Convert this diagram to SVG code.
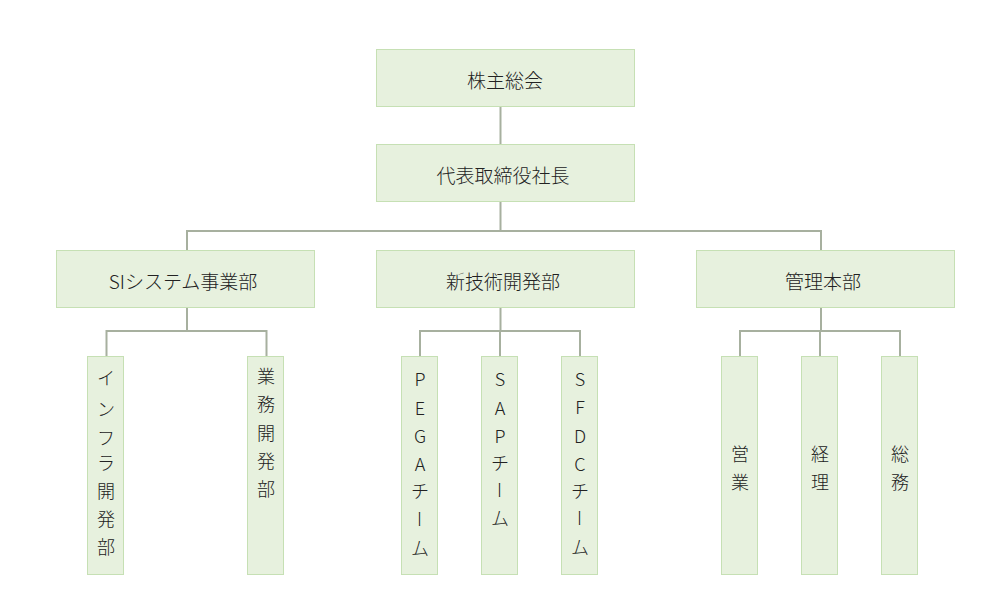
<svg xmlns="http://www.w3.org/2000/svg" width="1000" height="616" viewBox="0 0 1000 616">
<style>
.box{fill:#e7f1de;stroke:#c6e0b4;stroke-width:1}
.ln{fill:none;stroke:#a7b09f;stroke-width:2}
text{font-family:"Noto Sans CJK JP","Noto Sans",sans-serif;font-size:18px;font-weight:300;fill:#222;text-anchor:middle;dominant-baseline:central}
.h{font-size:19px}
</style>
<rect width="1000" height="616" fill="#fff"/>
<g id="connectors">
<path class="ln" d="M500.5 106V144.5"/>
<path class="ln" d="M500.5 201.5V231M187 250V231H821V250"/>
<path class="ln" d="M187 307V331M106.5 356V331H266.5V356"/>
<path class="ln" d="M500.5 307V331M420 356V331H580V356M500 331V356"/>
<path class="ln" d="M821 307V331M740 356V331H900V356M820 331V356"/>
</g>
<g id="n-kabunushi"><rect class="box" x="376.5" y="49.5" width="258" height="57"/><text class="h" x="505" y="79">株主総会</text></g>
<g id="n-shacho"><rect class="box" x="376.5" y="144.5" width="258" height="57"/><text class="h" x="503" y="174">代表取締役社長</text></g>
<g id="n-si"><rect class="box" x="56.5" y="250.5" width="258" height="57"/><text class="h" x="183" y="280">SIシステム事業部</text></g>
<g id="n-shingijutsu"><rect class="box" x="376.5" y="250.5" width="258" height="57"/><text class="h" x="503" y="280">新技術開発部</text></g>
<g id="n-kanri"><rect class="box" x="696.5" y="250.5" width="258" height="57"/><text class="h" x="823" y="280">管理本部</text></g>
<g id="n-infra"><rect class="box" x="87.5" y="356.5" width="36" height="218"/>
<text x="106" y="377">イ</text><text x="106" y="408">ン</text><text x="106" y="437">フ</text><text x="106" y="462">ラ</text><text x="106" y="490">開</text><text x="106" y="518">発</text><text x="106" y="546">部</text></g>
<g id="n-gyomu"><rect class="box" x="247.5" y="356.5" width="36" height="218"/>
<text x="266" y="375">業</text><text x="266" y="403">務</text><text x="266" y="432">開</text><text x="266" y="460">発</text><text x="266" y="488">部</text></g>
<g id="n-pega"><rect class="box" x="401.5" y="356.5" width="36" height="218"/>
<text x="420" y="378">P</text><text x="420" y="407">E</text><text x="420" y="435">G</text><text x="420" y="463">A</text><text x="420" y="490">チ</text><text x="420" y="519" transform="rotate(90 420 519)">ー</text><text x="420" y="547">ム</text></g>
<g id="n-sap"><rect class="box" x="481.5" y="356.5" width="36" height="218"/>
<text x="500" y="378">S</text><text x="500" y="407">A</text><text x="500" y="435">P</text><text x="500" y="462">チ</text><text x="500" y="490" transform="rotate(90 500 490)">ー</text><text x="500" y="517">ム</text></g>
<g id="n-sfdc"><rect class="box" x="561.5" y="356.5" width="36" height="218"/>
<text x="580" y="378">S</text><text x="580" y="406">F</text><text x="580" y="435">D</text><text x="580" y="463">C</text><text x="580" y="490">チ</text><text x="580" y="518" transform="rotate(90 580 518)">ー</text><text x="580" y="546">ム</text></g>
<g id="n-eigyo"><rect class="box" x="721.5" y="356.5" width="36" height="218"/>
<text x="740" y="453">営</text><text x="740" y="481">業</text></g>
<g id="n-keiri"><rect class="box" x="801.5" y="356.5" width="36" height="218"/>
<text x="820" y="453">経</text><text x="820" y="481">理</text></g>
<g id="n-somu"><rect class="box" x="881.5" y="356.5" width="36" height="218"/>
<text x="900" y="453">総</text><text x="900" y="481">務</text></g>
</svg>
